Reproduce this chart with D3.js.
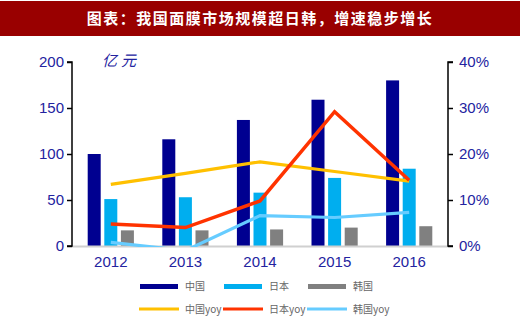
<!DOCTYPE html>
<html><head><meta charset="utf-8">
<script src="https://cdn.jsdelivr.net/npm/d3@7"></script>
<style>body{margin:0;background:#fff;}svg{display:block;}</style>
</head><body>
<svg id="c" width="520" height="328"></svg>
<script>
const titleText = "图表：我国面膜市场规模超日韩，增速稳步增长";
const unitText = "亿元";
const years = ["2012","2013","2014","2015","2016"];
const chinaVal = [100, 116, 137, 159, 180];
const japanVal = [51, 53, 58, 74, 84];
const koreaVal = [17, 17, 18, 20, 21.5];
const chinaYoy = [0.134, 0.158, 0.183, 0.162, 0.141];
const japanYoy = [0.048, 0.040, 0.098, 0.292, 0.143];
const koreaYoy = [0.008, -0.010, 0.066, 0.062, 0.073];
const leftTicks = [0, 50, 100, 150, 200];
const rightTicks = [0, 0.1, 0.2, 0.3, 0.4];
const barNames = ["中国", "日本", "韩国"];
const lineNames = ["中国yoy", "日本yoy", "韩国yoy"];

const barColors = ["#000090", "#00AEEF", "#808080"];
const lineColors = ["#FFC000", "#FF3300", "#66CCFF"];
const axisTextColor = "#2323a0";

const svg = d3.select("#c");
// title bar
svg.append("rect").attr("x",0).attr("y",1).attr("width",520).attr("height",35).attr("fill","#990000");
svg.append("text").attr("x",260).attr("y",23.5).attr("text-anchor","middle")
  .attr("fill","#fff").style("font-family","'Noto Sans CJK SC'").style("font-size","15px")
  .style("font-weight","bold").style("letter-spacing","1.5px").text(titleText);

const pL = 72, pR = 448, pT = 62, pB = 246;
const x = d3.scaleBand().domain(years).range([73.5, 446.5]);
const yL = d3.scaleLinear().domain([0,200]).range([pB, pT]);
const yR = d3.scaleLinear().domain([0,0.4]).range([pB, pT]);

// bars
const bw = 13, bstep = 16.6;
[chinaVal, japanVal, koreaVal].forEach((arr, si) => {
  svg.append("g").selectAll("rect").data(arr).join("rect")
    .attr("x", (d,i) => x(years[i]) + x.bandwidth()/2 - bw/2 + (si-1)*bstep)
    .attr("y", d => yL(d))
    .attr("width", bw)
    .attr("height", d => pB - yL(d))
    .attr("fill", barColors[si]);
});

// baseline
svg.append("line").attr("x1",pL).attr("x2",pR).attr("y1",pB+0.5).attr("y2",pB+0.5)
  .attr("stroke","#d0d0d0").attr("stroke-width",2);

// clip for lines
svg.append("clipPath").attr("id","plotclip").append("rect")
  .attr("x",pL).attr("y",pT-10).attr("width",pR-pL).attr("height",pB-pT+11);

const lineGen = d3.line().x((d,i) => x(years[i]) + x.bandwidth()/2).y(d => yR(d));
const lg = svg.append("g").attr("clip-path","url(#plotclip)");
[chinaYoy, japanYoy, koreaYoy].forEach((arr, si) => {
  lg.append("path").datum(arr).attr("d", lineGen).attr("fill","none")
    .attr("stroke", lineColors[si]).attr("stroke-width", si===1 ? 3.5 : 3.2)
    .attr("stroke-linejoin","miter");
});

// axes
const axL = svg.append("g").attr("transform",`translate(${pL},0)`)
  .call(d3.axisLeft(yL).tickValues(leftTicks).tickSize(5).tickPadding(3));
const axR = svg.append("g").attr("transform",`translate(${pR},0)`)
  .call(d3.axisRight(yR).tickValues(rightTicks).tickSize(5).tickPadding(6).tickFormat(d3.format(".0%")));
[axL, axR].forEach(a => {
  a.select(".domain").attr("stroke","#000").attr("stroke-width",1.5);
  a.selectAll(".tick line").attr("stroke","#000").attr("stroke-width",1.5);
  a.selectAll("text").attr("fill",axisTextColor).style("font-family","'Liberation Sans', Arial, sans-serif").style("font-size","15px");
});
axL.select(".domain").attr("d", `M-5,${pT}H0V${pB}H-5`);
axR.select(".domain").attr("d", `M5,${pT}H0V${pB}H5`);

const axX = svg.append("g").attr("transform",`translate(0,${pB})`)
  .call(d3.axisBottom(x).tickSize(0).tickPadding(10));
axX.select(".domain").remove();
axX.selectAll("text").attr("fill",axisTextColor).style("font-family","'Liberation Sans', Arial, sans-serif").style("font-size","15px");

// unit
svg.append("text").attr("x",102).attr("y",66).attr("fill",axisTextColor)
  .style("font-family","'Noto Sans CJK SC'").style("font-size","15px").style("font-style","italic")
  .style("letter-spacing","4px").text(unitText);

// legend
const legX = [140, 224, 308];
const leg = svg.append("g").style("font-family","'Noto Sans CJK SC'").style("font-size","10px");
barNames.forEach((n,i) => {
  leg.append("rect").attr("x",legX[i]).attr("y",284).attr("width",38).attr("height",5).attr("fill",barColors[i]);
  leg.append("text").attr("x",legX[i]+45).attr("y",290).attr("fill","#666").text(n);
});
lineNames.forEach((n,i) => {
  leg.append("rect").attr("x",legX[i]-1).attr("y",307.5).attr("width",40).attr("height",3).attr("fill",lineColors[i]);
  leg.append("text").attr("x",legX[i]+45).attr("y",313).attr("fill","#666").text(n);
});
</script>
</body></html>
